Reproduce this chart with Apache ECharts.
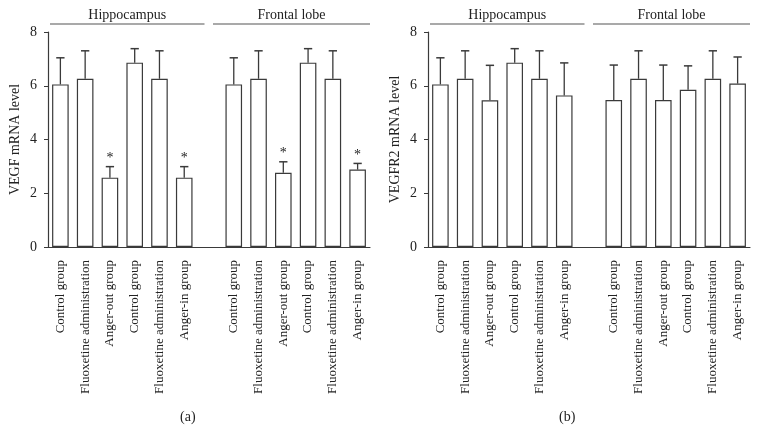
<!DOCTYPE html>
<html>
<head>
<meta charset="utf-8">
<script src="https://cdn.jsdelivr.net/npm/echarts@6/dist/echarts.min.js"></script>
<style>html,body{margin:0;padding:0;background:#fff}#c{width:758px;height:441px}</style>
</head>
<body>
<div id="c"></div>
<script>
// ---- data ----
var categories = ['Control group','Fluoxetine administration','Anger-out group','Control group','Fluoxetine administration','Anger-in group','',
                  'Control group','Fluoxetine administration','Anger-out group','Control group','Fluoxetine administration','Anger-in group'];
var regions = ['Hippocampus','Frontal lobe'];
var vegfMean = [6.05, 6.26, 2.58, 6.86, 6.26, 2.58, null, 6.05, 6.26, 2.76, 6.86, 6.26, 2.88];
var vegfErrTop = [7.04, 7.30, 2.99, 7.38, 7.30, 2.99, null, 7.04, 7.30, 3.17, 7.38, 7.30, 3.11];
var vegfStar = [false, false, true, false, false, true, false, false, false, true, false, false, true];
var vegfr2Mean = [6.05, 6.26, 5.46, 6.86, 6.26, 5.64, null, 5.47, 6.26, 5.47, 5.85, 6.26, 6.08];
var vegfr2ErrTop = [7.04, 7.30, 6.76, 7.38, 7.30, 6.85, null, 6.77, 7.30, 6.77, 6.74, 7.30, 7.07];
var vegfr2Star = [false, false, false, false, false, false, false, false, false, false, false, false, false];
var yTicks = [0, 2, 4, 6, 8];
var panelNames = ['VEGF mRNA level', 'VEGFR2 mRNA level'];
var panelCaptions = ['(a)', '(b)'];

var FONT = '"Liberation Serif", "Times New Roman", serif';
var INK = '#3a3a3a';
var BAR_RATIO = 0.67;

function errData(mean, top, star) {
  var out = [];
  for (var i = 0; i < mean.length; i++) {
    if (mean[i] != null) out.push([i, mean[i], top[i], star[i] ? 1 : 0]);
  }
  return out;
}

function renderErr(params, api) {
  var idx = api.value(0);
  var p0 = api.coord([idx, api.value(1)]);
  var p1 = api.coord([idx, api.value(2)]);
  var band = api.size([1, 0])[0];
  var cap = band * BAR_RATIO / 2;
  var children = [
    {type: 'line', shape: {x1: p0[0], y1: p0[1], x2: p1[0], y2: p1[1]}, style: {stroke: INK, lineWidth: 1.3}},
    {type: 'line', shape: {x1: p1[0] - cap / 2, y1: p1[1], x2: p1[0] + cap / 2, y2: p1[1]}, style: {stroke: INK, lineWidth: 1.5}}
  ];
  if (api.value(3) === 1) {
    children.push({type: 'text', style: {text: '*', x: p1[0], y: p1[1] - 1, align: 'center', verticalAlign: 'bottom',
      font: '14px ' + FONT, fill: '#222'}});
  }
  return {type: 'group', children: children};
}

function renderRegion(params, api) {
  var i = params.dataIndex;
  var gapIdx = 6;
  var top = params.coordSys.y;
  var xs, xe;
  if (i === 0) {
    xs = params.coordSys.x + 2;
    xe = api.coord([gapIdx, 0])[0] - 4.5;
  } else {
    xs = api.coord([gapIdx, 0])[0] + 4;
    xe = params.coordSys.x + params.coordSys.width;
  }
  var y = top - 8;
  return {type: 'group', children: [
    {type: 'line', shape: {x1: xs, y1: y, x2: xe, y2: y}, style: {stroke: '#555', lineWidth: 1.2}},
    {type: 'text', style: {text: regions[i], x: (xs + xe) / 2, y: y - 2, align: 'center', verticalAlign: 'bottom',
      font: '14px ' + FONT, fill: '#222'}}
  ]};
}

var grids = [
  {left: 48, top: 32, width: 322, height: 215},
  {left: 428, top: 32, width: 322, height: 215}
];
var means = [vegfMean, vegfr2Mean];
var tops = [vegfErrTop, vegfr2ErrTop];
var stars = [vegfStar, vegfr2Star];

var xAxes = [], yAxes = [], series = [], titles = [];
for (var g = 0; g < 2; g++) {
  xAxes.push({
    type: 'category', gridIndex: g, data: categories, boundaryGap: true,
    axisLine: {lineStyle: {color: INK, width: 1.2}},
    axisTick: {alignWithLabel: true, length: 5, interval: 0, lineStyle: {color: INK}},
    axisLabel: {interval: 0, rotate: 90, margin: 13, color: '#222', fontFamily: FONT, fontSize: 13}
  });
  yAxes.push({
    type: 'value', gridIndex: g, min: 0, max: 8, interval: 2,
    name: panelNames[g], nameLocation: 'middle', nameRotate: 90, nameGap: 26,
    nameTextStyle: {color: '#222', fontFamily: FONT, fontSize: 14},
    axisLine: {show: true, lineStyle: {color: INK, width: 1.2}},
    axisTick: {show: true, length: 4, lineStyle: {color: INK}},
    splitLine: {show: false},
    axisLabel: {margin: 11, color: '#222', fontFamily: FONT, fontSize: 14,
      formatter: function (v) { return yTicks.indexOf(v) >= 0 ? String(v) : ''; }}
  });
  series.push({
    type: 'bar', xAxisIndex: g, yAxisIndex: g, data: means[g], barWidth: (BAR_RATIO * 100) + '%',
    itemStyle: {color: '#fff', borderColor: INK, borderWidth: 1.2}, silent: true, animation: false
  });
  series.push({
    type: 'custom', xAxisIndex: g, yAxisIndex: g, data: errData(means[g], tops[g], stars[g]),
    renderItem: renderErr, silent: true, animation: false, z: 5, clip: false
  });
  series.push({
    type: 'custom', xAxisIndex: g, yAxisIndex: g, data: [[0, 0], [7, 0]],
    renderItem: renderRegion, silent: true, animation: false, z: 5, clip: false
  });
  titles.push({text: panelCaptions[g], left: g === 0 ? 175 : 554, top: 405,
    textStyle: {fontFamily: FONT, fontSize: 14, fontWeight: 'normal', color: '#222'}});
}

var chart = echarts.init(document.getElementById('c'), null, {renderer: 'canvas'});
chart.setOption({
  animation: false,
  backgroundColor: '#fff',
  title: titles,
  grid: grids,
  xAxis: xAxes,
  yAxis: yAxes,
  series: series
});
</script>
</body>
</html>
